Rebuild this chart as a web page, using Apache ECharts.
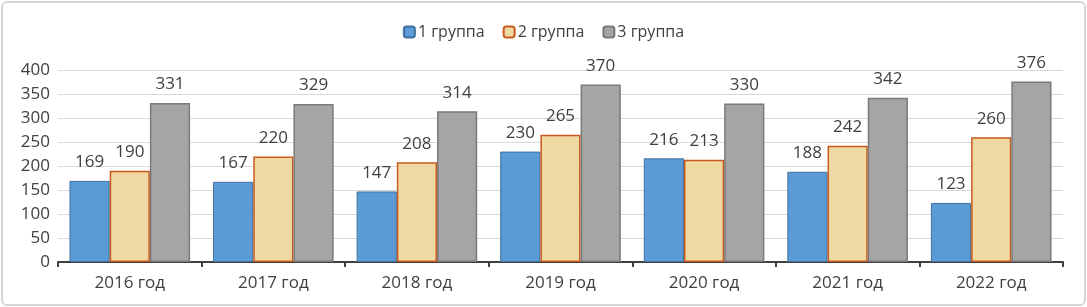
<!DOCTYPE html>
<html>
<head>
<meta charset="utf-8">
<script src="https://cdn.jsdelivr.net/npm/echarts@6/dist/echarts.min.js"></script>
<style>
  html, body { margin: 0; padding: 0; background: #fff; }
  .box { position: absolute; left: 1px; top: 1px; width: 1081px; height: 301px;
         border: 2px solid #d6d6d6; border-radius: 6px; }
  #chart { width: 1087px; height: 307px; }
</style>
</head>
<body>
<div class="box"></div>
<div id="chart"></div>
<script>
// категории и данные по группам
const years = ['2016 год', '2017 год', '2018 год', '2019 год', '2020 год', '2021 год', '2022 год'];
const group1 = [169, 167, 147, 230, 216, 188, 123];
const group2 = [190, 220, 208, 265, 213, 242, 260];
const group3 = [331, 329, 314, 370, 330, 342, 376];

const chart = echarts.init(document.getElementById('chart'));

const labelStyle = {
  show: true,
  position: 'top',
  distance: 10,
  fontSize: 17,
  color: '#404040',
  fontFamily: 'Open Sans'
};

const option = {
  animation: false,
  textStyle: { fontFamily: 'Open Sans' },
  legend: {
    top: 19,
    left: 'center',
    itemWidth: 11,
    itemHeight: 11,
    itemGap: 18,
    textStyle: { fontSize: 16, color: '#404040', padding: [0, 0, 0, -2] },
    data: ['1 группа', '2 группа', '3 группа']
  },
  grid: { left: 58, right: 24, top: 70, bottom: 45 },
  xAxis: {
    type: 'category',
    data: years,
    axisLine: { lineStyle: { color: '#404040', width: 2 } },
    axisTick: { show: true, length: 5, lineStyle: { color: '#404040', width: 2 } },
    axisLabel: { fontSize: 17, color: '#404040', margin: 13 }
  },
  yAxis: {
    type: 'value',
    min: 0,
    max: 400,
    interval: 50,
    axisLabel: { fontSize: 17, color: '#404040', margin: 8 },
    splitLine: { lineStyle: { color: '#d9d9d9' } }
  },
  series: [
    {
      name: '1 группа',
      type: 'bar',
      data: group1,
      barGap: 0,
      barCategoryGap: '16%',
      itemStyle: { color: '#5B9BD5', borderColor: '#41719C', borderWidth: 1 },
      label: labelStyle
    },
    {
      name: '2 группа',
      type: 'bar',
      data: group2,
      itemStyle: { color: '#F0D8A2', borderColor: '#C85A1E', borderWidth: 1.5 },
      label: labelStyle
    },
    {
      name: '3 группа',
      type: 'bar',
      data: group3,
      itemStyle: { color: '#A5A5A5', borderColor: '#7A7A7A', borderWidth: 1.5 },
      label: labelStyle
    }
  ]
};

chart.setOption(option);
</script>
</body>
</html>
